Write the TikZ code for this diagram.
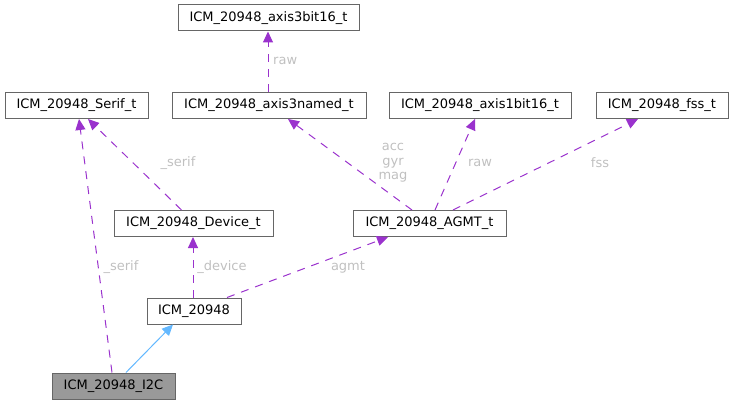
\documentclass[tikz,border=0pt]{standalone}
\usepackage{fontspec}
\setmainfont{DejaVu Sans}
\usetikzlibrary{arrows.meta}
\definecolor{edgecol}{HTML}{9A32CD}
\definecolor{inhcol}{HTML}{63B8FF}
\definecolor{boxcol}{HTML}{666666}
\definecolor{lblcol}{HTML}{C0C0C0}
\definecolor{curcol}{HTML}{999999}
\begin{document}
\begin{tikzpicture}[x=1pt,y=-1pt,
  cls/.style={draw=boxcol,line width=1pt,fill=white,minimum height=26pt,inner sep=0pt,font=\fontsize{13}{15}\selectfont},
  cur/.style={cls,fill=curcol},
  usage/.style={draw=edgecol,line width=1pt,dash pattern=on 8pt off 7pt,-{Triangle[length=11pt,width=10pt]}},
  inh/.style={draw=inhcol,line width=1pt,-{Triangle[length=11pt,width=10pt]}},
  lbl/.style={text=lblcol,font=\fontsize{13}{14.5}\selectfont,inner sep=0pt,align=center}]
\useasboundingbox (0,0) rectangle (733,404);
\node[cls,minimum width=181pt] (a3b) at (268.5,18) {ICM\_20948\_axis3bit16\_t};
\node[cls,minimum width=143pt] (serif) at (76.5,105.5) {ICM\_20948\_Serif\_t};
\node[cls,minimum width=194pt] (a3n) at (269,105.5) {ICM\_20948\_axis3named\_t};
\node[cls,minimum width=182pt] (a1b) at (480,105.5) {ICM\_20948\_axis1bit16\_t};
\node[cls,minimum width=132pt] (fss) at (662,105.5) {ICM\_20948\_fss\_t};
\node[cls,minimum width=159pt] (dev) at (193.5,223.5) {ICM\_20948\_Device\_t};
\node[cls,minimum width=153pt] (agmt) at (429.5,223.5) {ICM\_20948\_AGMT\_t};
\node[cls,minimum width=94pt] (icm) at (194,311) {ICM\_20948};
\node[cur,minimum width=123pt] (i2c) at (113.5,386) {ICM\_20948\_I2C};
% edges
\draw[usage] ([xshift=-1pt]a3n.north) -- ([xshift=-0.5pt]a3b.south);
\draw[usage] ([xshift=-17.5pt]agmt.north) -- ([xshift=19pt]a3n.south);
\draw[usage] ([xshift=5.5pt]agmt.north) -- ([xshift=-5pt]a1b.south);
\draw[usage] ([xshift=23.5pt]agmt.north) -- ([xshift=-24pt]fss.south);
\draw[usage] ([xshift=-12pt]dev.north) -- ([xshift=11.5pt]serif.south);
\draw[usage] ([xshift=-1.5pt]i2c.north) -- ([xshift=2.5pt]serif.south);
\draw[usage] ([xshift=-1pt]icm.north) -- ([xshift=-0.5pt]dev.south);
\draw[usage] ([xshift=33pt]icm.north) -- ([xshift=-41.5pt]agmt.south);
\draw[inh] ([xshift=12.5pt]i2c.north) -- ([xshift=-21pt]icm.south);
% labels
\node[lbl,anchor=west] (l1) at (273,61) {raw};
\node[lbl] (l2) at (178,163) {\_serif};
\node[lbl] (l3) at (393,163) {acc\\gyr\\mag};
\node[lbl] (l4) at (480,163) {raw};
\node[lbl] (l5) at (600,163) {fss};
\node[lbl] (l6) at (121,267) {\_serif};
\node[lbl] (l7) at (222,267) {\_device};
\node[lbl] (l8) at (348,267) {agmt};
\end{tikzpicture}
\end{document}
